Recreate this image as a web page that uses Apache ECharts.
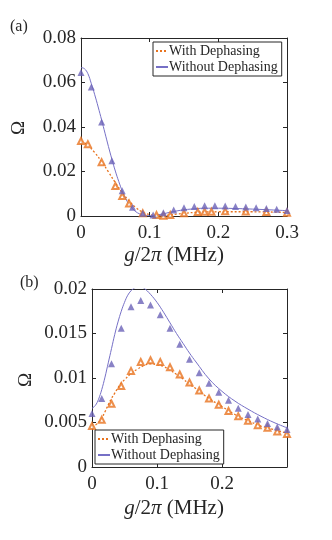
<!DOCTYPE html>
<html>
<head>
<meta charset="utf-8">
<script src="https://cdn.jsdelivr.net/npm/echarts@6/dist/echarts.min.js"></script>
<style>
  html, body { margin: 0; padding: 0; background: #fff; }
  #chart { width: 332px; height: 540px; }
</style>
</head>
<body>
<div id="chart"></div>
<script>
  // panel (a): markers
  const gA = [0, 0.015, 0.03, 0.045, 0.06, 0.075, 0.09, 0.105, 0.12, 0.135, 0.15, 0.165, 0.18, 0.195, 0.21, 0.225, 0.24, 0.255, 0.27, 0.285, 0.3];
  const aWithoutPts = [0.0645, 0.058, 0.0423, 0.0248, 0.0114, 0.0039, 0.0012, 0.0004, 0.0015, 0.0027, 0.0037, 0.0043, 0.0046, 0.0046, 0.0045, 0.0043, 0.004, 0.0037, 0.0034, 0.003, 0.0025];
  const gAWith = [0, 0.01, 0.03, 0.05, 0.06, 0.07, 0.09, 0.11, 0.12, 0.13, 0.15, 0.17, 0.18, 0.19, 0.21, 0.24, 0.27, 0.3];
  const aWithPts = [0.0337, 0.0323, 0.0242, 0.0135, 0.009, 0.0056, 0.0012, 0.0004, 0.0001, 0.0004, 0.0012, 0.0018, 0.0019, 0.0019, 0.0021, 0.002, 0.0018, 0.0015];

  // panel (a): theory curves
  const gACurveWithout = [0, 0.005, 0.01, 0.015, 0.02, 0.025, 0.03, 0.035, 0.04, 0.045, 0.05, 0.055, 0.06, 0.065, 0.07, 0.075, 0.08, 0.085, 0.09, 0.095, 0.1, 0.105, 0.11, 0.12, 0.13, 0.14, 0.15, 0.16, 0.18, 0.2, 0.22, 0.25, 0.28, 0.3];
  const aCurveWithout = [0.0667, 0.0662, 0.064, 0.0595, 0.0545, 0.049, 0.0432, 0.0372, 0.0312, 0.0255, 0.0202, 0.0155, 0.0113, 0.0079, 0.0052, 0.0033, 0.0019, 0.001, 0.0005, 0.0002, 0.0001, 0.0002, 0.0004, 0.001, 0.0017, 0.0023, 0.0028, 0.0031, 0.0035, 0.0035, 0.0034, 0.0031, 0.0027, 0.0024];
  const gACurveWith = [0, 0.01, 0.02, 0.03, 0.04, 0.05, 0.06, 0.07, 0.08, 0.09, 0.1, 0.11, 0.12, 0.13, 0.14, 0.15, 0.17, 0.2, 0.25, 0.3];
  const aCurveWith = [0.0338, 0.0318, 0.0285, 0.0245, 0.0198, 0.015, 0.0106, 0.0068, 0.0038, 0.0017, 0.0006, 0.0002, 0.0002, 0.0005, 0.0009, 0.0012, 0.0017, 0.0019, 0.0019, 0.0016];

  // panel (b): markers
  const gB = [0, 0.015, 0.03, 0.045, 0.06, 0.075, 0.09, 0.105, 0.12, 0.135, 0.15, 0.165, 0.18, 0.195, 0.21, 0.225, 0.24, 0.255, 0.27, 0.285, 0.3];
  const bWithoutPts = [0.006, 0.0077, 0.0116, 0.0156, 0.018, 0.0187, 0.0182, 0.0171, 0.0156, 0.0138, 0.0121, 0.0106, 0.0094, 0.0084, 0.0075, 0.0066, 0.0059, 0.0054, 0.0049, 0.0045, 0.0042];
  const bWithPts = [0.0046, 0.0053, 0.0071, 0.0091, 0.0108, 0.0118, 0.012, 0.0118, 0.0112, 0.0104, 0.0095, 0.0086, 0.0077, 0.007, 0.0063, 0.0057, 0.0052, 0.0047, 0.0044, 0.004, 0.0037];

  // panel (b): theory curves
  const gBCurveWithout = [0, 0.005, 0.01, 0.015, 0.02, 0.025, 0.03, 0.035, 0.04, 0.045, 0.05, 0.055, 0.06, 0.065, 0.07, 0.075, 0.08, 0.09, 0.1, 0.11, 0.12, 0.13, 0.14, 0.15, 0.16, 0.18, 0.2, 0.22, 0.24, 0.26, 0.28, 0.3];
  const bCurveWithout = [0.0066, 0.0069, 0.0076, 0.0087, 0.0101, 0.0117, 0.0133, 0.0149, 0.0163, 0.0175, 0.0185, 0.0193, 0.0198, 0.0201, 0.0202, 0.0202, 0.0201, 0.0194, 0.0185, 0.0174, 0.0162, 0.015, 0.0139, 0.0128, 0.0118, 0.0099, 0.0085, 0.0074, 0.0065, 0.0057, 0.005, 0.0044];
  const gBCurveWith = [0, 0.005, 0.01, 0.015, 0.02, 0.025, 0.03, 0.035, 0.04, 0.045, 0.05, 0.06, 0.07, 0.08, 0.09, 0.1, 0.11, 0.12, 0.13, 0.14, 0.15, 0.16, 0.18, 0.2, 0.22, 0.24, 0.26, 0.28, 0.3];
  const bCurveWith = [0.0045, 0.0047, 0.005, 0.0055, 0.0062, 0.007, 0.0077, 0.0083, 0.0089, 0.0094, 0.0098, 0.0105, 0.011, 0.0114, 0.0116, 0.0115, 0.0113, 0.0109, 0.0104, 0.0099, 0.0093, 0.0088, 0.0077, 0.0068, 0.0059, 0.0052, 0.0046, 0.0042, 0.0038];

  const xTicksA = [0, 0.1, 0.2, 0.3];
  const yTicksA = [0, 0.02, 0.04, 0.06, 0.08];
  const xTicksB = [0, 0.1, 0.2];
  const yTicksB = [0, 0.005, 0.01, 0.015, 0.02];

  const purple = '#7670c6';
  const purpleMark = '#6b63b8';
  const orange = '#e8731f';
  const ink = '#262626';
  const serif = '"Liberation Serif", "DejaVu Serif", serif';

  const zip = (xs, ys) => xs.map((x, i) => [x, ys[i]]);

  function xAxisOf(grid, ticks, max, top) {
    return {
      type: 'value', gridIndex: grid, position: top ? 'top' : 'bottom',
      min: 0, max: max, interval: 0.1,
      axisLine: { onZero: false, lineStyle: { color: ink, width: 1 } },
      axisTick: { inside: true, length: 4, lineStyle: { color: ink } },
      splitLine: { show: false },
      axisLabel: {
        show: !top, margin: 8, fontSize: 19, fontFamily: serif, color: ink,
        showMinLabel: true, showMaxLabel: true,
        formatter: v => ticks.some(t => Math.abs(t - v) < 1e-9) ? String(+v.toFixed(3)) : ''
      }
    };
  }

  function yAxisOf(grid, ticks, right) {
    return {
      type: 'value', gridIndex: grid, position: right ? 'right' : 'left',
      min: 0, max: ticks[ticks.length - 1], interval: ticks[1] - ticks[0],
      axisLine: { show: true, onZero: false, lineStyle: { color: ink, width: 1 } },
      axisTick: { show: true, inside: true, length: 4, lineStyle: { color: ink } },
      splitLine: { show: false },
      axisLabel: {
        show: !right, margin: 5, fontSize: 19, fontFamily: serif, color: ink,
        formatter: v => String(+v.toFixed(4))
      }
    };
  }

  function legendOf(left, top) {
    return {
      left: left, top: top, orient: 'vertical',
      data: ['With Dephasing', 'Without Dephasing'],
      backgroundColor: '#fff', borderColor: ink, borderWidth: 1,
      padding: [2, 4, 2, 2], itemGap: 2, itemWidth: 12, itemHeight: 14,
      selectedMode: false,
      itemStyle: { opacity: 0, borderWidth: 0 },
      lineStyle: { inherit: true },
      textStyle: { fontSize: 14, fontFamily: serif, color: ink, padding: [0, 0, 0, -4] }
    };
  }

  function curve(name, xs, ys, xi, color, dotted) {
    return {
      name: name, type: 'line', xAxisIndex: xi, yAxisIndex: xi,
      data: zip(xs, ys), smooth: 0.4, symbol: 'none',
      lineStyle: { color: color, width: dotted ? 1.3 : 1, type: dotted ? [2, 2] : 'solid' },
      itemStyle: { color: color }, z: 2
    };
  }

  function marks(xs, ys, xi, filled) {
    return {
      type: 'scatter', xAxisIndex: xi, yAxisIndex: xi,
      data: zip(xs, ys), symbol: filled ? 'triangle' : 'emptyTriangle', symbolSize: filled ? 7 : 6,
      itemStyle: filled ? { color: purpleMark } : { color: orange, borderColor: orange, borderWidth: 1 },
      z: 3
    };
  }

  const chart = echarts.init(document.getElementById('chart'), null, { renderer: 'canvas' });

  chart.setOption({
    animation: false,
    backgroundColor: '#fff',
    grid: [
      { left: 81, top: 38, width: 206, height: 178, show: false },
      { left: 92, top: 289, width: 195, height: 178, show: false }
    ],
    xAxis: [
      xAxisOf(0, xTicksA, 0.3, false),
      xAxisOf(0, xTicksA, 0.3, true),
      xAxisOf(1, xTicksB, 0.3, false),
      xAxisOf(1, xTicksB, 0.3, true)
    ],
    yAxis: [
      yAxisOf(0, yTicksA, false),
      yAxisOf(0, yTicksA, true),
      yAxisOf(1, yTicksB, false),
      yAxisOf(1, yTicksB, true)
    ],
    legend: [legendOf(153, 42), legendOf(95, 430)],
    series: [
      curve('With Dephasing', gACurveWith, aCurveWith, 0, orange, true),
      curve('Without Dephasing', gACurveWithout, aCurveWithout, 0, purple, false),
      marks(gAWith, aWithPts, 0, false),
      marks(gA, aWithoutPts, 0, true),
      curve('With Dephasing', gBCurveWith, bCurveWith, 2, orange, true),
      curve('Without Dephasing', gBCurveWithout, bCurveWithout, 2, purple, false),
      marks(gB, bWithPts, 2, false),
      marks(gB, bWithoutPts, 2, true)
    ],
    graphic: [
      { type: 'text', left: 10, top: 19, style: { text: '(a)', font: '16px ' + serif, fill: ink } },
      { type: 'text', left: 20, top: 275, style: { text: '(b)', font: '16px ' + serif, fill: ink } },
      { type: 'text', x: 19, y: 128, rotation: Math.PI / 2,
        style: { text: 'Ω', font: '19px ' + serif, fill: ink, align: 'center', verticalAlign: 'middle' } },
      { type: 'text', x: 26, y: 380, rotation: Math.PI / 2,
        style: { text: 'Ω', font: '19px ' + serif, fill: ink, align: 'center', verticalAlign: 'middle' } },
      { type: 'text', x: 174, y: 255,
        style: { text: '{i|g}/2{i|π} (MHz)', font: '21px ' + serif, fill: ink, align: 'center', verticalAlign: 'middle',
          rich: { i: { fontStyle: 'italic', fontSize: 21, fontFamily: serif, fill: ink } } } },
      { type: 'text', x: 174, y: 508,
        style: { text: '{i|g}/2{i|π} (MHz)', font: '21px ' + serif, fill: ink, align: 'center', verticalAlign: 'middle',
          rich: { i: { fontStyle: 'italic', fontSize: 21, fontFamily: serif, fill: ink } } } }
    ]
  });
</script>
</body>
</html>
